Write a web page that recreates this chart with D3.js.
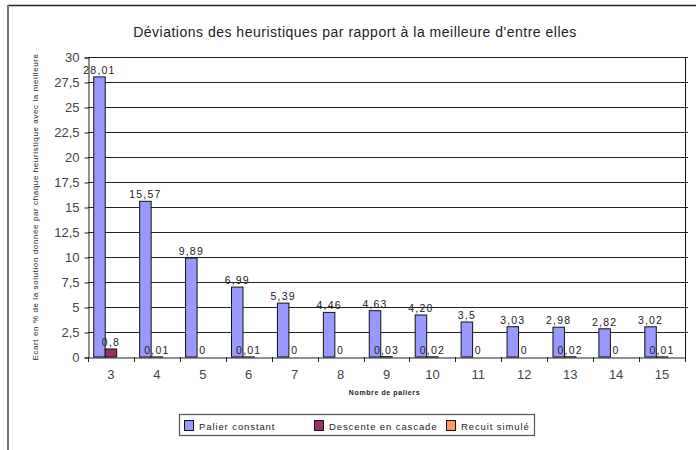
<!DOCTYPE html>
<html>
<head>
<meta charset="utf-8">
<script src="https://cdn.jsdelivr.net/npm/d3@7"></script>
<style>
  body { margin: 0; background: #fff; }
  svg text { font-family: "Liberation Sans", Arial, sans-serif; }
</style>
</head>
<body>
<svg id="chart" width="696" height="450"></svg>
<script>
// donnees
var paliers = ["3", "4", "5", "6", "7", "8", "9", "10", "11", "12", "13", "14", "15"];
var palierConstant = [28.01, 15.57, 9.89, 6.99, 5.39, 4.46, 4.63, 4.20, 3.5, 3.03, 2.98, 2.82, 3.02];
var palierLabels = ["28,01", "15,57", "9,89", "6,99", "5,39", "4,46", "4,63", "4,20", "3,5", "3,03", "2,98", "2,82", "3,02"];
var descenteCascade = [0.8, 0.01, 0, 0.01, 0, 0, 0.03, 0.02, 0, 0, 0.02, 0, 0.01];
var recuitSimule = [0, 0, 0, 0, 0, 0, 0, 0, 0, 0, 0, 0, 0];
var seriesNames = ["Palier constant", "Descente en cascade", "Recuit simulé"];
var seriesColors = ["#9999ff", "#993366", "#ff9966"];
var yTicks = [0, 2.5, 5, 7.5, 10, 12.5, 15, 17.5, 20, 22.5, 25, 27.5, 30];

var svg = d3.select("#chart");

// cadre exterieur
svg.append("line").attr("x1", 8).attr("x2", 696).attr("y1", 5.5).attr("y2", 5.5)
    .attr("stroke", "#222").attr("stroke-width", 1.5);
svg.append("line").attr("x1", 8).attr("x2", 8).attr("y1", 5).attr("y2", 450)
    .attr("stroke", "#777").attr("stroke-width", 2);

// titre
svg.append("text").attr("x", 355).attr("y", 37).attr("text-anchor", "middle")
    .attr("font-size", 14).attr("letter-spacing", 0.5).attr("fill", "#222")
    .text("Déviations des heuristiques par rapport à la meilleure d'entre elles");

var pLeft = 88, pRight = 685, pTop = 57, pBottom = 357;

var x = d3.scaleBand().domain(paliers).range([pLeft, pRight]);
var xs = d3.scaleBand().domain(seriesNames).range([0, x.bandwidth()]).paddingOuter(0.5);
var y = d3.scaleLinear().domain([0, 30]).range([pBottom, pTop]);

// quadrillage
svg.append("g").selectAll("line").data(yTicks.slice(1)).enter().append("line")
    .attr("x1", pLeft).attr("x2", pRight + 3)
    .attr("y1", function(d) { return Math.round(y(d)) + 0.5; })
    .attr("y2", function(d) { return Math.round(y(d)) + 0.5; })
    .attr("stroke", "#222").attr("stroke-width", 1);

// bord droit
svg.append("line").attr("x1", pRight + 0.5).attr("x2", pRight + 0.5)
    .attr("y1", pTop).attr("y2", pBottom).attr("stroke", "#111");

// axe y
var yAxis = svg.append("g").attr("transform", "translate(" + (pLeft + 0.5) + ",0.5)")
    .call(d3.axisLeft(y).tickValues(yTicks).tickSize(4).tickPadding(5)
        .tickFormat(function(d) { return String(d).replace(".", ","); }));
yAxis.selectAll("path, line").attr("stroke", "#222");
yAxis.selectAll("text").attr("font-size", 13).attr("fill", "#444")
    .attr("font-family", "Liberation Sans, Arial, sans-serif");

// axe x
var xAxis = svg.append("g").attr("transform", "translate(0," + (pBottom + 0.5) + ")")
    .call(d3.axisBottom(x).tickSize(0).tickPadding(12));
xAxis.select("path").attr("stroke", "#222");
xAxis.selectAll("text").attr("font-size", 13).attr("fill", "#444")
    .attr("font-family", "Liberation Sans, Arial, sans-serif");
// graduations entre categories
svg.append("g").selectAll("line").data(paliers.concat(["fin"])).enter().append("line")
    .attr("x1", function(d, i) { return Math.round(pLeft + i * x.step()) + 0.5; })
    .attr("x2", function(d, i) { return Math.round(pLeft + i * x.step()) + 0.5; })
    .attr("y1", pBottom).attr("y2", pBottom + 5)
    .attr("stroke", "#222");

// barres
var allSeries = [palierConstant, descenteCascade, recuitSimule];
allSeries.forEach(function(values, s) {
    svg.append("g").selectAll("rect").data(values).enter().append("rect")
        .attr("x", function(d, i) { return x(paliers[i]) + xs(seriesNames[s]); })
        .attr("y", function(d) { return y(d); })
        .attr("width", xs.bandwidth())
        .attr("height", function(d) { return pBottom - y(d); })
        .attr("fill", seriesColors[s])
        .attr("stroke", "#111").attr("stroke-width", 1);
});

// etiquettes de valeurs
svg.append("g").selectAll("text").data(palierConstant).enter().append("text")
    .attr("x", function(d, i) { return x(paliers[i]) + xs(seriesNames[0]) + xs.bandwidth() / 2; })
    .attr("y", function(d) { return y(d) - 3; })
    .attr("text-anchor", "middle").attr("font-size", 10.5).attr("letter-spacing", 1.2)
    .attr("fill", "#222")
    .text(function(d, i) { return palierLabels[i]; });

svg.append("g").selectAll("text").data(descenteCascade).enter().append("text")
    .attr("x", function(d, i) { return x(paliers[i]) + xs(seriesNames[1]) + xs.bandwidth() / 2; })
    .attr("y", function(d) { return y(d) - 3; })
    .attr("text-anchor", "middle").attr("font-size", 10.5).attr("letter-spacing", 1.2)
    .attr("fill", "#222")
    .text(function(d) { return String(d).replace(".", ","); });

// titres des axes
svg.append("text").attr("transform", "translate(38," + ((pTop + pBottom) / 2) + ") rotate(-90)")
    .attr("text-anchor", "middle").attr("font-size", 8).attr("letter-spacing", 0.6).attr("fill", "#222")
    .text("Ecart en % de la solution donnée par chaque heuristique avec la meilleure");
svg.append("text").attr("x", (pLeft + pRight) / 2 - 2).attr("y", 395)
    .attr("text-anchor", "middle").attr("font-size", 7).attr("font-weight", "bold")
    .attr("letter-spacing", 0.6).attr("fill", "#222")
    .text("Nombre de paliers");

// legende
var legend = svg.append("g");
legend.append("rect").attr("x", 179.5).attr("y", 414.5).attr("width", 355).attr("height", 21)
    .attr("fill", "#fff").attr("stroke", "#555").attr("stroke-width", 1.2);
var legendX = [184, 314, 446];
seriesNames.forEach(function(name, s) {
    legend.append("rect").attr("x", legendX[s] + 0.5).attr("y", 420.5).attr("width", 9).attr("height", 10)
        .attr("fill", seriesColors[s]).attr("stroke", "#111");
    legend.append("text").attr("x", legendX[s] + 15).attr("y", 429.5)
        .attr("font-size", 9.5).attr("letter-spacing", 0.9).attr("fill", "#222")
        .text(name);
});
</script>
</body>
</html>
